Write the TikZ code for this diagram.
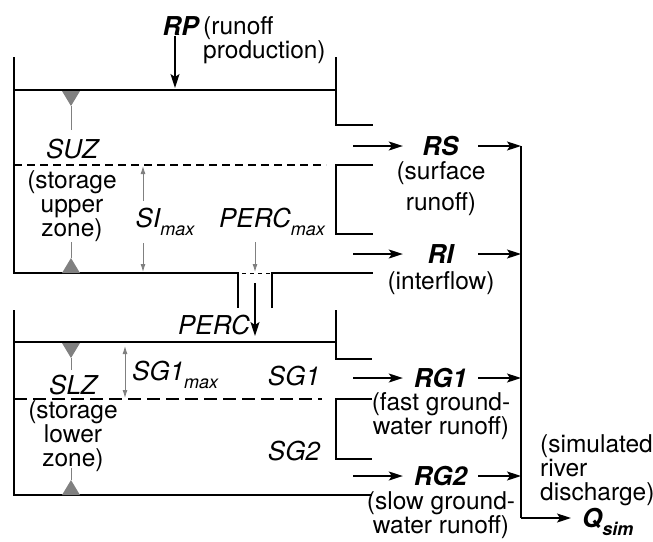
\documentclass[tikz,border=0pt]{standalone}
\usepackage{fontspec}
\setmainfont{TeX Gyre Heros}
\usetikzlibrary{arrows.meta}
\newcommand\lowtext[1]{\raisebox{-.33em}{\fontsize{18}{18}\selectfont#1}}
\tikzset{
  wall/.style={line width=1.4pt},
  blk/.style={line width=1.4pt,-{Stealth[length=14pt,width=9pt,inset=3pt]}},
  gry/.style={gray,line width=.9pt},
  garr/.style={gry,-{Latex[length=8pt,width=5pt]}},
  txt/.style={inner sep=0pt,align=center,font=\fontsize{24.5}{24}\selectfont},
  itl/.style={txt,font=\fontsize{26}{24}\selectfont\itshape},
  bi/.style={txt,font=\fontsize{26}{24}\selectfont\bfseries\itshape},
  flowbox/.style={bi,minimum width=75pt},
}
\begin{document}
\begin{tikzpicture}[x=1pt,y=-1pt]
\useasboundingbox (0,0) rectangle (653,541);
\draw[wall](14,57)--(14,273)--(238,273)--(238,308) (272,308)--(272,273)--(373,273);
\draw[wall](14,90)--(336,90) (336,57)--(336,125)--(373,125) (373,165)--(336,165)--(336,234)--(373,234);
\draw[wall,dash pattern=on 8pt off 5pt](14,165)--(326,165);
\draw[line width=1pt,dash pattern=on 4pt off 4pt](242,273)--(270,273);
\draw[wall](14,310)--(14,495)--(372,495) (14,342)--(336,342) (336,310)--(336,359)--(372,359) (372,399)--(336,399)--(336,459)--(372,459);
\draw[wall,dash pattern=on 13pt off 6pt](14,399)--(322,399);
\foreach \y/\d/\s in {91/1/130, 273/-1/242, 343/1/370, 495/-1/468}{
  \fill[gray](62,\y)--(80,\y)--(71,\y+15*\d)--cycle; \draw[gry](71,\y+15*\d)--(71,\s);}
\node[bi,anchor=east](rp) at (199,26){RP};
\node[txt,anchor=west,align=left](rpnote) at (203,40){(runoff\\production)};
\coordinate(rpin) at (175,88);
\draw[blk](rp.south -| rpin)--(rpin);
\node[itl](suz) at (72,149){SUZ};
\node[txt](suznote) at (72,206){(storage\\upper\\zone)};
\node[itl,inner ysep=7pt](simax) at (165,222){SI\lowtext{max}};
\coordinate(sitop) at (143,166); \coordinate(sibot) at (143,272);
\draw[garr](simax.north -| sitop)--(sitop); \draw[garr](simax.south -| sibot)--(sibot);
\node[itl,inner ysep=6pt](percmax) at (272,222){PERC\lowtext{max}};
\coordinate(pmtip) at (255,272);
\draw[garr](percmax.south -| pmtip)--(pmtip);
\node[itl,anchor=east](perc) at (250,325){PERC};
\coordinate(percin) at (255,283); \coordinate(percout) at (255,336);
\draw[blk](percin)--(percout);
\node[itl](slz) at (73,385){SLZ};
\node[txt](slznote) at (73,436){(storage\\lower\\zone)};
\node[itl,anchor=west](sg1max) at (132,375){SG1\lowtext{max}};
\coordinate(sgtop) at (125,346); \coordinate(sgbot) at (125,398);
\draw[gry,{Latex[length=8pt,width=5pt]}-{Latex[length=8pt,width=5pt]}](sgtop)--(sgbot);
\node[itl](sg1) at (294,376){SG1};
\node[itl](sg2) at (294,451){SG2};
\foreach \nm/\yy/\lab/\ly/\note in {rs/146/RS/189/{(surface\\[7pt]runoff)}, ri/254/RI/283/{(interflow)},
    rgone/378/RG1/416/{(fast ground-\\water runoff)}, rgtwo/476/RG2/515/{(slow ground-\\water runoff)}}{
  \coordinate(\nm-in) at (353,\yy); \coordinate(\nm-out) at (521,\yy);
  \node[flowbox](\nm) at (440.5,\yy){\lab};
  \node[txt](\nm-note) at (441,\ly){\note};
  \draw[blk](\nm-in)--(\nm); \draw[blk](\nm)--(\nm-out);}
\coordinate(qc) at (521,518);
\draw[wall](rs-out)--(qc);
\node[bi,anchor=base west,inner xsep=11pt](qsim) at (571,527){Q\lowtext{sim}};
\draw[blk](qc)--(qc -| qsim.west);
\node[txt,anchor=west,align=left](qnote) at (540,470){(simulated\\river\\discharge)};
\end{tikzpicture}
\end{document}
